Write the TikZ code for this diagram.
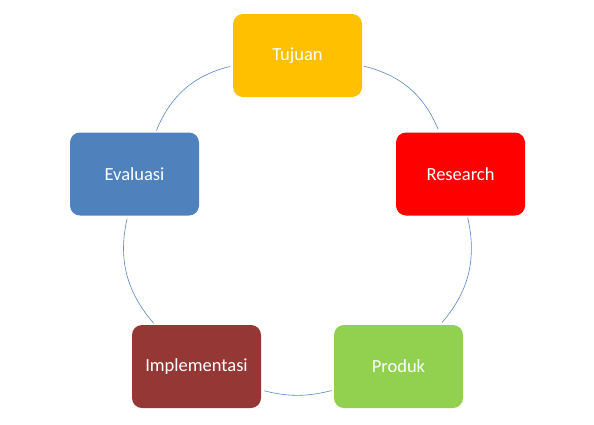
\documentclass[tikz,border=0pt]{standalone}
\usepackage{fontspec}
\setmainfont{Carlito}
\usetikzlibrary{positioning}

\definecolor{tujuancol}{HTML}{FFC000}
\definecolor{researchcol}{HTML}{FF0000}
\definecolor{produkcol}{HTML}{92D050}
\definecolor{implcol}{HTML}{953735}
\definecolor{evalcol}{HTML}{4F81BD}
\definecolor{ringcol}{HTML}{5B87C0}

\begin{document}
\begin{tikzpicture}[
    x=1pt, y=1pt,
    stage/.style={rounded corners=10pt, align=center, minimum height=83pt, minimum width=129pt, text=white, font=\fontsize{18.5}{22}\selectfont, inner sep=0pt},
    ring/.style={draw=ringcol, line width=0.6pt, bend left=27, shorten <=2pt, shorten >=3pt}
]
\useasboundingbox (0,0) rectangle (594,-424);

\node[stage, fill=tujuancol] (tujuan) at (297.5, -55.5) {Tujuan};
\node[stage, fill=researchcol] (research) at (460.5, -174) {Research};
\node[stage, fill=produkcol] (produk) at (398.5, -366.5) {Produk};
\node[stage, fill=implcol] (impl) at (196.5, -366.5) {Implementasi};
\node[stage, fill=evalcol] (evaluasi) at (134.5, -174) {Evaluasi};

\draw[ring] (tujuan) to (research);
\draw[ring] (research) to (produk);
\draw[ring, bend left=14] (produk.200) to (impl.-20);
\draw[ring] (impl) to (evaluasi);
\draw[ring] (evaluasi) to (tujuan);

\end{tikzpicture}
\end{document}
